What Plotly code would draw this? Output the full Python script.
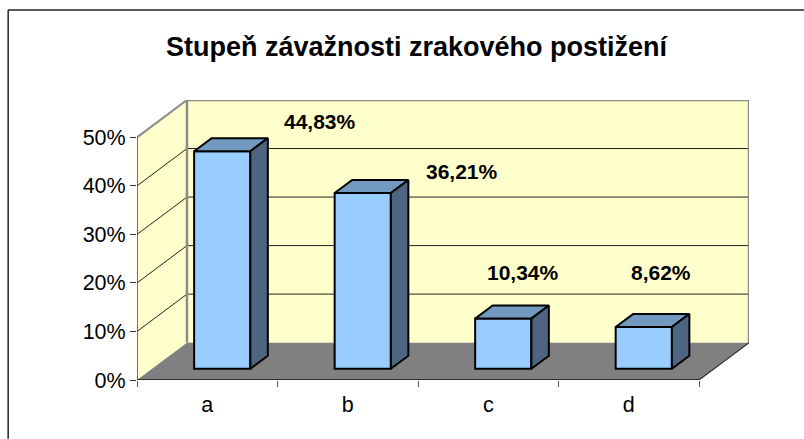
# -*- coding: utf-8 -*-
"""Excel-style pseudo 3D column chart, drawn on a flat cartesian subplot."""
import plotly.graph_objects as go

categories = ["a", "b", "c", "d"]
values = [44.83, 36.21, 10.34, 8.62]
y_ticks = [0, 10, 20, 30, 40, 50]
title_text = "Stupeň závažnosti zrakového postižení"

# Oblique projection: how far the back wall is shifted, in axis units.
DEPTH_X = 0.3556
DEPTH_Y = 7.7
BAR_WIDTH = 0.4
BAR_START = 0.30  # front of the bar, as a share of the depth
BAR_DEPTH = 0.35

FONT = "Liberation Sans, Arial, sans-serif"
WALL = "#FFFFCC"
FLOOR = "#808080"
BORDER = "#8C8C8C"
FRONT = "#99CCFF"
TOP = "#7299BF"
SIDE = "#4D6580"

# The data labels were dragged by hand in the original (pixels from the bar top).
LABEL_SHIFT = [(98, 30), (99, 22), (20, 46), (17, 54)]

n = len(categories)
y_max = y_ticks[-1]


def poly_path(points):
    return "M " + " L ".join(f"{x:.4f},{y:.4f}" for x, y in points) + " Z"


def poly(points, fill, line_color=None, width=0):
    return dict(type="path", xref="x", yref="y", layer="below", path=poly_path(points),
                fillcolor=fill, line=dict(color=line_color or fill, width=width))


def seg(x0, y0, x1, y1, color, width):
    return dict(type="line", xref="x", yref="y", layer="below", x0=x0, y0=y0, x1=x1, y1=y1,
                line=dict(color=color, width=width))


shapes = [
    # side wall, back wall, floor
    poly([(0, 0), (DEPTH_X, DEPTH_Y), (DEPTH_X, y_max + DEPTH_Y), (0, y_max)], WALL),
    poly([(DEPTH_X, DEPTH_Y), (n + DEPTH_X, DEPTH_Y), (n + DEPTH_X, y_max + DEPTH_Y),
          (DEPTH_X, y_max + DEPTH_Y)], WALL),
    poly([(0, 0), (n, 0), (n + DEPTH_X, DEPTH_Y), (DEPTH_X, DEPTH_Y)], FLOOR),
]
for v in y_ticks[1:-1]:
    shapes.append(seg(0, v, DEPTH_X, v + DEPTH_Y, "#222222", 1))
    shapes.append(seg(DEPTH_X, v + DEPTH_Y, n + DEPTH_X, v + DEPTH_Y, "#222222", 1))
shapes += [
    seg(DEPTH_X, DEPTH_Y, DEPTH_X, y_max + DEPTH_Y, BORDER, 2.5),
    seg(n + DEPTH_X, DEPTH_Y, n + DEPTH_X, y_max + DEPTH_Y, BORDER, 2.5),
    seg(DEPTH_X, y_max + DEPTH_Y, n + DEPTH_X, y_max + DEPTH_Y, BORDER, 2.5),
    seg(0, y_max, DEPTH_X, y_max + DEPTH_Y, BORDER, 2),
    seg(n, 0, n + DEPTH_X, DEPTH_Y, "#333333", 1.2),
    seg(0, 0, 0, y_max, "#444444", 1.5),
    seg(0, 0, n, 0, "#111111", 1.5),
    # outer chart frame: only top and left survive in the picture
    dict(type="line", xref="paper", yref="paper", x0=-0.2105, x1=1.09, y0=1.3215, y1=1.3215,
         line=dict(color="#222222", width=1.5)),
    dict(type="line", xref="paper", yref="paper", x0=-0.2105, x1=-0.2105, y0=1.3215, y1=-0.21,
         line=dict(color="#222222", width=1.5)),
]

base = BAR_START * DEPTH_Y
centers = [i + 0.5 + BAR_START * DEPTH_X for i in range(n)]
dx = BAR_DEPTH * DEPTH_X
dy = BAR_DEPTH * DEPTH_Y

top_x, top_y, side_x, side_y = [], [], [], []
for c, v in zip(centers, values):
    left, right = c - BAR_WIDTH / 2, c + BAR_WIDTH / 2
    top = v + base
    top_x += [left, right, right + dx, left + dx, left, None]
    top_y += [top, top, top + dy, top + dy, top, None]
    side_x += [right, right + dx, right + dx, right, right, None]
    side_y += [base, base + dy, top + dy, top, base, None]

fig = go.Figure()
fig.add_trace(go.Bar(x=centers, y=values, base=base, width=BAR_WIDTH,
                     marker=dict(color=FRONT, line=dict(color="black", width=2))))
fig.add_trace(go.Scatter(x=top_x, y=top_y, mode="lines", fill="toself", fillcolor=TOP,
                         line=dict(color="black", width=2)))
fig.add_trace(go.Scatter(x=side_x, y=side_y, mode="lines", fill="toself", fillcolor=SIDE,
                         line=dict(color="black", width=2)))

for c, v, (sx, sy) in zip(centers, values, LABEL_SHIFT):
    fig.add_annotation(x=c, y=v + base, text=f"<b>{v:.2f}%</b>".replace(".", ","), showarrow=False,
                       xshift=sx, yshift=sy, font=dict(family=FONT, size=21, color="black"))

fig.update_layout(
    width=804, height=439,
    margin=dict(l=136.7, r=54.6, t=100, b=59),
    paper_bgcolor="white", plot_bgcolor="white",
    showlegend=False, hovermode=False,
    font=dict(family=FONT, color="black"),
    title=dict(text=f"<b>{title_text}</b>", font=dict(family=FONT, size=27, color="black"),
               xref="container", yref="container", x=416.5 / 804, y=1 - 47 / 439,
               xanchor="center", yanchor="middle"),
    shapes=shapes,
)
fig.update_xaxes(
    range=[0, n + DEPTH_X], showgrid=False, zeroline=False, showline=False,
    tickmode="array", tickvals=[i + 0.5 for i in range(n)], ticktext=categories,
    ticks="outside", ticklen=5, tickwidth=0, tickcolor="rgba(0,0,0,0)",
    tickfont=dict(family=FONT, size=21.5, color="black"),
    minor=dict(tickmode="array", tickvals=list(range(n + 1)), ticks="outside", ticklen=6,
               tickwidth=1.2, tickcolor="#555555", showgrid=False),
)
fig.update_yaxes(
    range=[0, y_max + DEPTH_Y], showgrid=False, zeroline=False, showline=False,
    tickmode="array", tickvals=y_ticks, ticktext=[f"{v}%" for v in y_ticks],
    ticks="outside", ticklen=6, tickwidth=1.2, tickcolor="#333333",
    tickfont=dict(family=FONT, size=21.5, color="black"),
)

fig.write_html("out.html", config=dict(displayModeBar=False),
               post_script="document.body.style.margin='0';window.dispatchEvent(new Event('resize'));")
